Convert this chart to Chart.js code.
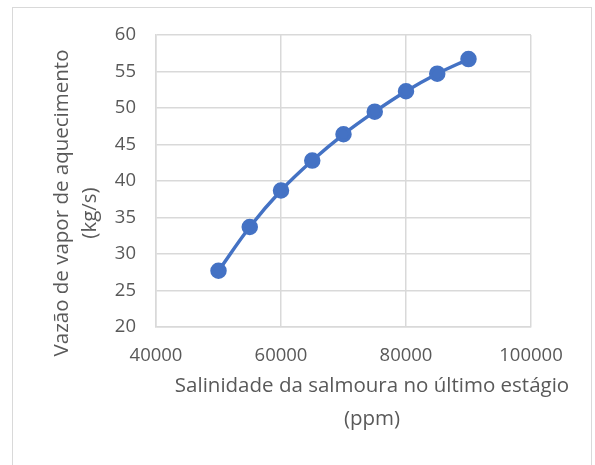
<!DOCTYPE html>
<html>
<head>
<meta charset="utf-8">
<script src="https://cdn.jsdelivr.net/npm/chart.js@4/dist/chart.umd.min.js"></script>
<style>
  html, body { margin: 0; padding: 0; background: #fff; }
  #wrap { width: 595px; height: 465px; position: relative; }
</style>
</head>
<body>
<div id="wrap"><canvas id="chart" width="595" height="465"></canvas></div>
<script>
// Data
const salinity = [50000, 55000, 60000, 65000, 70000, 75000, 80000, 85000, 90000];
const steamFlow = [27.7, 33.7, 38.7, 42.8, 46.4, 49.5, 52.3, 54.7, 56.7];
const xTitleLines = ['Salinidade da salmoura no último estágio', '(ppm)'];
const yTitleLines = ['Vazão de vapor de aquecimento', '(kg/s)'];

const textColor = '#595959';
const gridColor = '#d9d9d9';
const fontFamily = '"Open Sans", "Liberation Sans", sans-serif';

// Draws the outer chart border and the two axis titles
const framePlugin = {
    id: 'frame',
    beforeDraw(chart) {
        const ctx = chart.ctx;
        ctx.save();
        ctx.strokeStyle = gridColor;
        ctx.lineWidth = 1;
        ctx.strokeRect(12.5, 7.5, 579, 470);
        ctx.restore();
    },
    afterDraw(chart) {
        const ctx = chart.ctx;
        ctx.save();
        ctx.fillStyle = textColor;
        ctx.font = '20.5px ' + fontFamily;
        ctx.textAlign = 'center';
        ctx.textBaseline = 'middle';
        // x title
        ctx.fillText(xTitleLines[0], 372, 386);
        ctx.fillText(xTitleLines[1], 372, 419);
        // y title
        ctx.save();
        ctx.translate(62, 203);
        ctx.rotate(-Math.PI / 2);
        ctx.fillText(yTitleLines[0], 0, 0);
        ctx.restore();
        ctx.save();
        ctx.translate(90, 213);
        ctx.rotate(-Math.PI / 2);
        ctx.fillText(yTitleLines[1], 0, 0);
        ctx.restore();
        ctx.restore();
    }
};

const ctx = document.getElementById('chart').getContext('2d');
new Chart(ctx, {
    type: 'scatter',
    data: {
        datasets: [{
            data: salinity.map((x, i) => ({ x: x, y: steamFlow[i] })),
            showLine: true,
            borderColor: '#4472C4',
            backgroundColor: '#4472C4',
            borderWidth: 3.5,
            pointRadius: 6.5,
            pointHoverRadius: 6.5,
            tension: 0.35
        }]
    },
    options: {
        responsive: false,
        animation: false,
        layout: { padding: { top: 35, right: 64, left: 0, bottom: 0 } },
        plugins: {
            legend: { display: false },
            tooltip: { enabled: false }
        },
        scales: {
            x: {
                type: 'linear',
                min: 40000,
                max: 100000,
                afterFit: s => { s.height = 138; },
                ticks: {
                    stepSize: 20000,
                    color: textColor,
                    padding: 18,
                    font: { family: fontFamily, size: 18.5 },
                    callback: v => String(v)
                },
                grid: { color: gridColor, lineWidth: 1.5, drawTicks: false },
                border: { color: gridColor, width: 1.5 }
            },
            y: {
                min: 20,
                max: 60,
                afterFit: s => { s.width = 156; },
                ticks: {
                    stepSize: 5,
                    color: textColor,
                    padding: 20,
                    font: { family: fontFamily, size: 18.5 }
                },
                grid: { color: gridColor, lineWidth: 1.5, drawTicks: false },
                border: { color: gridColor, width: 1.5 }
            }
        }
    },
    plugins: [framePlugin]
});
</script>
</body>
</html>
